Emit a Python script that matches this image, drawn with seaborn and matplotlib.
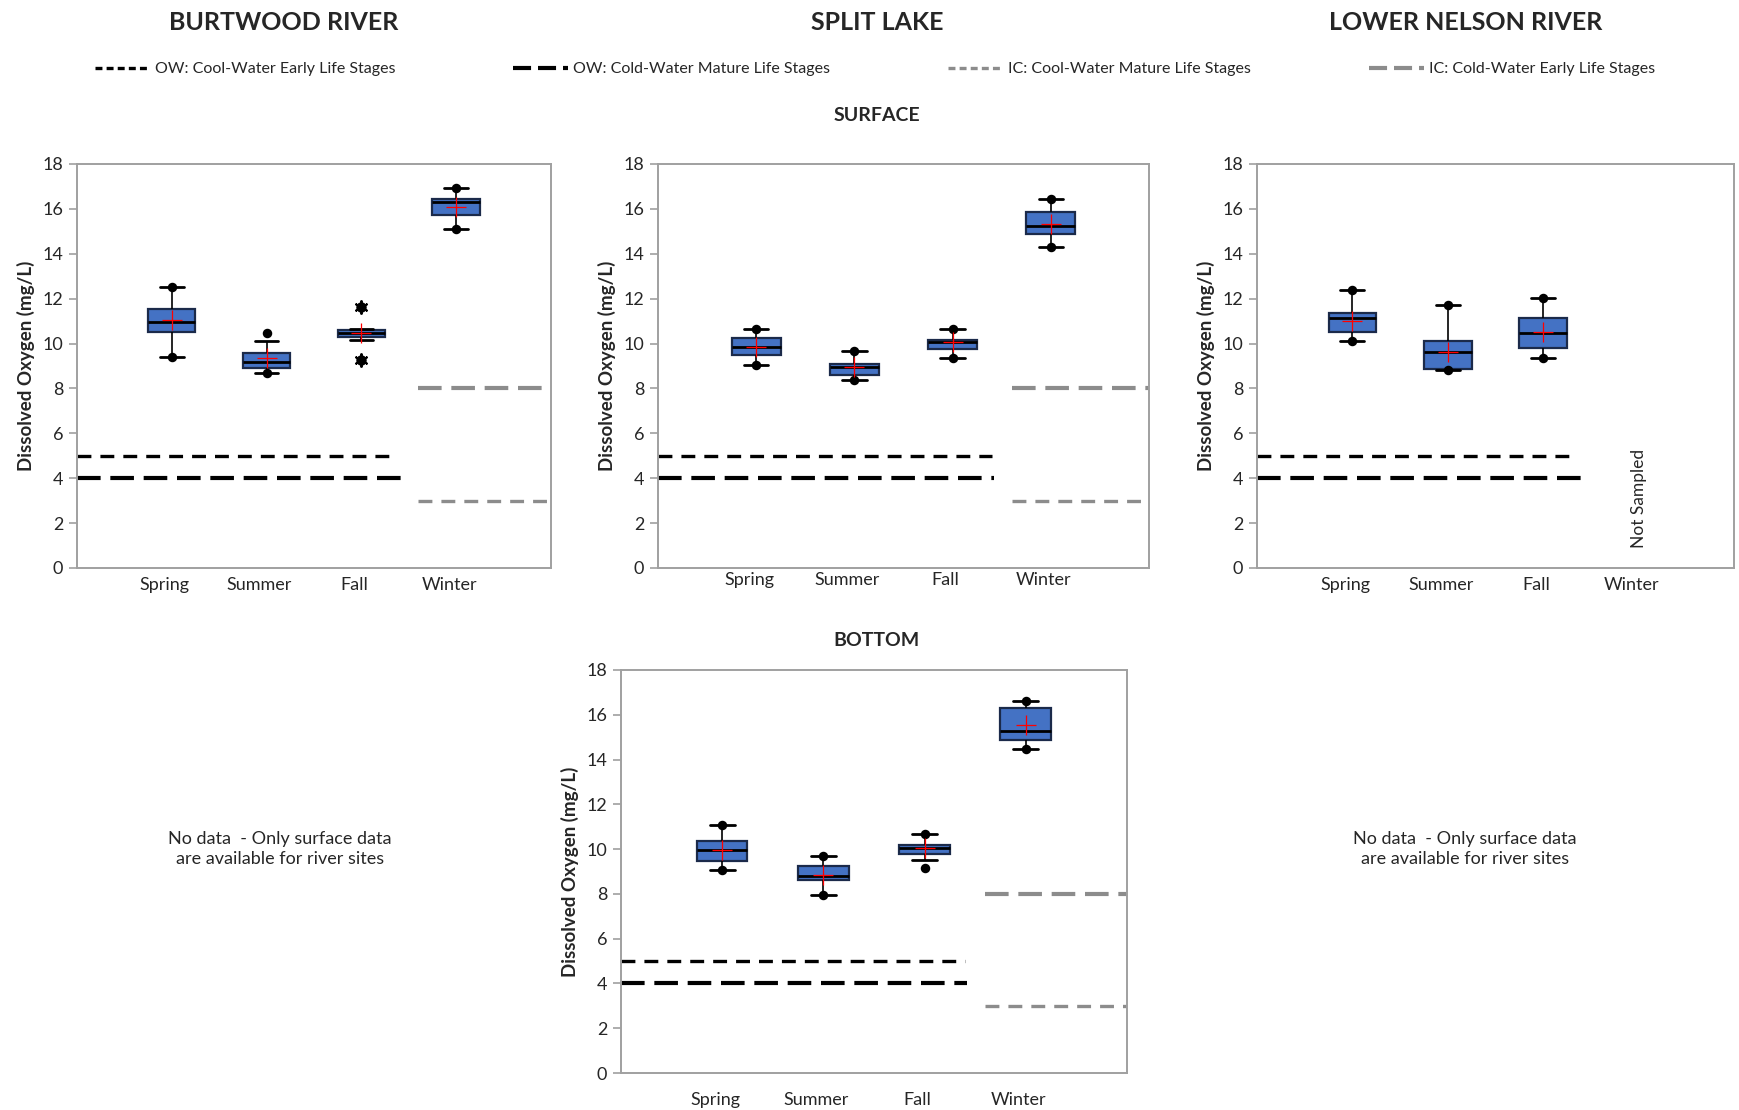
import numpy as np
import pandas as pd
import matplotlib
matplotlib.use("Agg")
import matplotlib.pyplot as plt
import matplotlib.transforms as mtransforms
import seaborn as sns
from matplotlib.lines import Line2D

sns.set_theme(style="white")
plt.rcParams["font.family"] = ["Lato", "DejaVu Sans"]
plt.rcParams["lines.scale_dashes"] = False

seasons = ["Spring", "Summer", "Fall", "Winter"]

# Burtwood River - surface
bw_seasons = ["Spring", "Summer", "Fall", "Winter"]
bw_wlo = [9.41, 8.71, 10.17, 15.12]
bw_q1 = [10.51, 8.90, 10.29, 15.73]
bw_med = [10.95, 9.16, 10.47, 16.31]
bw_q3 = [11.54, 9.57, 10.59, 16.43]
bw_whi = [12.53, 10.10, 10.65, 16.93]
bw_mean = [11.05, 9.35, 10.47, 16.09]
bw_min_seasons = ["Spring", "Summer", "Winter"]
bw_min = [9.41, 8.71, 15.12]
bw_max_seasons = ["Spring", "Summer", "Winter"]
bw_max = [12.53, 10.45, 16.93]
bw_star_hi = [11.62]
bw_star_lo = [9.28]

# Split Lake - surface
sl_seasons = ["Spring", "Summer", "Fall", "Winter"]
sl_wlo = [9.05, 8.38, 9.34, 14.29]
sl_q1 = [9.48, 8.59, 9.75, 14.90]
sl_med = [9.83, 8.95, 10.05, 15.25]
sl_q3 = [10.24, 9.08, 10.18, 15.84]
sl_whi = [10.66, 9.69, 10.66, 16.45]
sl_mean = [9.83, 8.95, 10.05, 15.33]

# Lower Nelson River - surface (winter not sampled)
ln_seasons = ["Spring", "Summer", "Fall"]
ln_wlo = [10.10, 8.80, 9.34]
ln_q1 = [10.51, 8.86, 9.81]
ln_med = [11.12, 9.62, 10.45]
ln_q3 = [11.35, 10.10, 11.12]
ln_whi = [12.39, 11.71, 12.03]
ln_mean = [11.00, 9.62, 10.50]

# Split Lake - bottom
sb_seasons = ["Spring", "Summer", "Fall", "Winter"]
sb_wlo = [9.05, 7.94, 9.53, 14.45]
sb_q1 = [9.47, 8.63, 9.80, 14.87]
sb_med = [9.95, 8.78, 10.03, 15.29]
sb_q3 = [10.36, 9.26, 10.18, 16.32]
sb_whi = [11.08, 9.68, 10.69, 16.61]
sb_mean = [9.98, 8.86, 10.06, 15.54]
sb_min = [9.05, 7.94, 9.14, 14.45]

# Guideline values (mg/L)
ow_cool_early = 5.0
ow_cold_mature = 4.0
ic_cool_mature = 3.0
ic_cold_early = 8.0

BLUE = "#4472C4"
EDGE = "#1B2A4A"
GRAY = "#8C8C8C"
AXGRAY = "#A0A0A0"

W, H = 1740, 1110
fig = plt.figure(figsize=(W / 100, H / 100), dpi=100)


def ax_at(left, right, top, bottom):
    return fig.add_axes([left / W, 1 - bottom / H, (right - left) / W, (bottom - top) / H])


def box_frame(cats, wlo, q1, med, q3, whi):
    rows = []
    for s, a, b, c, d, e in zip(cats, wlo, q1, med, q3, whi):
        for v in (a, b, c, d, e):
            rows.append((s, v))
    return pd.DataFrame(rows, columns=["season", "do"])


def points(ax, cats, vals, **kw):
    df = pd.DataFrame({"season": cats, "do": vals})
    sns.pointplot(data=df, x="season", y="do", order=seasons, errorbar=None,
                  linestyle="none", ax=ax, **kw)


def dots(ax, cats, vals):
    points(ax, cats, vals, color="black", markers="o", markersize=4.8, zorder=6)


def panel(ax, cats, wlo, q1, med, q3, whi, mean, winter_lines=True, short_end=2.4):
    df = box_frame(cats, wlo, q1, med, q3, whi)
    ax.hlines(ow_cool_early, -1, short_end, colors="black", linewidth=2.4,
              linestyles=[(0, (10, 6.5))], zorder=1)
    ax.hlines(ow_cold_mature, -1, 2.42, colors="black", linewidth=3.0,
              linestyles=[(0, (17, 7))], zorder=1)
    if winter_lines:
        ax.hlines(ic_cool_mature, 2.6, 4, colors=GRAY, linewidth=2.4,
                  linestyles=[(0, (10, 6.5))], zorder=1)
        ax.hlines(ic_cold_early, 2.6, 4, colors=GRAY, linewidth=3.0,
                  linestyles=[(0, (17, 7))], zorder=1)
    sns.boxplot(data=df, x="season", y="do", order=seasons, whis=(0, 100),
                width=0.5, showfliers=False, color=BLUE, saturation=1,
                linecolor="black", linewidth=1.3, ax=ax,
                boxprops=dict(facecolor=BLUE, edgecolor=EDGE, linewidth=1.6),
                medianprops=dict(color="black", linewidth=2.0),
                whiskerprops=dict(color="black", linewidth=1.2),
                capprops=dict(color="black", linewidth=2.0))
    points(ax, cats, mean, color="red", markers="+", markersize=15,
           markeredgewidth=0.9, zorder=7)


def style(ax, xpad):
    ax.set_xlim(-1, 4)
    ax.set_ylim(0, 18)
    ax.set_yticks(range(0, 19, 2))
    ax.set_xlabel("")
    ax.set_ylabel("Dissolved Oxygen (mg/L)", fontsize=13.5, fontweight="bold", labelpad=5)
    ax.tick_params(axis="y", left=True, length=6, width=1.2, color=AXGRAY,
                   labelsize=13, pad=4)
    ax.tick_params(axis="x", bottom=False, labelsize=13, pad=xpad)
    off = mtransforms.ScaledTranslation(-7 / 100, 0, fig.dpi_scale_trans)
    for lab in ax.get_xticklabels():
        lab.set_transform(lab.get_transform() + off)
    for sp in ax.spines.values():
        sp.set_color(AXGRAY)
        sp.set_linewidth(1.4)
    ax.grid(False)


# Panel 1: Burtwood River
ax1 = ax_at(77, 551, 164, 568)
panel(ax1, bw_seasons, bw_wlo, bw_q1, bw_med, bw_q3, bw_whi, bw_mean, short_end=2.32)
dots(ax1, bw_min_seasons, bw_min)
dots(ax1, bw_max_seasons, bw_max)
for star in (bw_star_hi, bw_star_lo):
    points(ax1, ["Fall"], star, color="black", markers=(6, 2, 0),
           markersize=10, markeredgewidth=1.4, zorder=6)
    points(ax1, ["Fall"], star, color="black", markers="o",
           markersize=5.5, zorder=6)
style(ax1, 0.5)

# Panel 2: Split Lake surface
ax2 = ax_at(658, 1149, 164, 568)
panel(ax2, sl_seasons, sl_wlo, sl_q1, sl_med, sl_q3, sl_whi, sl_mean)
dots(ax2, sl_seasons, sl_wlo)
dots(ax2, sl_seasons, sl_whi)
style(ax2, -3)

# Panel 3: Lower Nelson River
ax3 = ax_at(1257, 1734, 164, 568)
panel(ax3, ln_seasons, ln_wlo, ln_q1, ln_med, ln_q3, ln_whi, ln_mean,
      winter_lines=False, short_end=2.3)
dots(ax3, ln_seasons, ln_wlo)
dots(ax3, ln_seasons, ln_whi)
style(ax3, 0.5)
ax3.text(3, 0.9, "Not Sampled", rotation=90, ha="center", va="bottom", fontsize=12.5)

# Panel 4: Split Lake bottom
ax4 = ax_at(621, 1127, 670, 1073)
panel(ax4, sb_seasons, sb_wlo, sb_q1, sb_med, sb_q3, sb_whi, sb_mean)
dots(ax4, sb_seasons, sb_min)
dots(ax4, sb_seasons, sb_whi)
style(ax4, 7.5)

# Titles
fig.text(284 / W, 1 - 22 / H, "BURTWOOD RIVER", ha="center", va="center",
         fontsize=18, fontweight="bold")
fig.text(877 / W, 1 - 22 / H, "SPLIT LAKE", ha="center", va="center",
         fontsize=18, fontweight="bold")
fig.text(1466 / W, 1 - 22 / H, "LOWER NELSON RIVER", ha="center", va="center",
         fontsize=18, fontweight="bold")
fig.text(877 / W, 1 - 115 / H, "SURFACE", ha="center", va="center",
         fontsize=14, fontweight="bold")
fig.text(877 / W, 1 - 640 / H, "BOTTOM", ha="center", va="center",
         fontsize=14, fontweight="bold")

nodata = "No data  - Only surface data\nare available for river sites"
fig.text(280 / W, 1 - 849 / H, nodata, ha="center", va="center", fontsize=13,
         linespacing=1.3)
fig.text(1465 / W, 1 - 849 / H, nodata, ha="center", va="center", fontsize=13,
         linespacing=1.3)

# Legend
handles = [
    Line2D([], [], color="black", linewidth=2.4, linestyle=(0, (5, 3))),
    Line2D([], [], color="black", linewidth=3.0, linestyle=(0, (13, 5))),
    Line2D([], [], color=GRAY, linewidth=2.4, linestyle=(0, (5, 3))),
    Line2D([], [], color=GRAY, linewidth=3.0, linestyle=(0, (13, 5))),
]
labels = [
    "OW: Cool-Water Early Life Stages",
    "OW: Cold-Water Mature Life Stages",
    "IC: Cool-Water Mature Life Stages",
    "IC: Cold-Water Early Life Stages",
]
fig.legend(handles, labels, loc="center", bbox_to_anchor=(875 / W, 1 - 69 / H),
           ncol=4, frameon=False, fontsize=11.5, handlelength=3.4,
           handletextpad=0.35, columnspacing=7.4)

fig.savefig("out.png", dpi=100)
